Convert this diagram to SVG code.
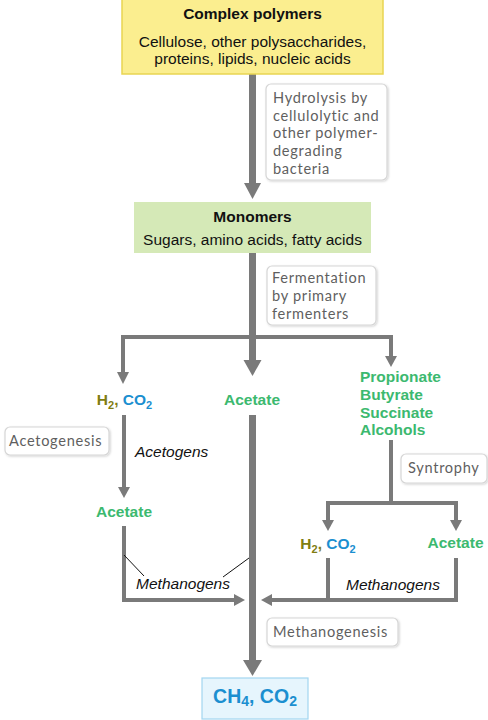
<svg xmlns="http://www.w3.org/2000/svg" width="488" height="720" viewBox="0 0 488 720">
<defs>
<filter id="sh" x="-10%" y="-10%" width="130%" height="140%">
<feDropShadow dx="1" dy="1" stdDeviation="1" flood-color="#000" flood-opacity="0.18"/>
</filter>
</defs>
<style>
.t{font-family:"Liberation Sans",Arial,sans-serif;font-size:15.5px;fill:#111}
.b{font-weight:bold}
.it{font-style:italic}
.g{fill:#3cb96f;font-weight:bold}
.ol{fill:#807d12}
.bl{fill:#1b8fd0}
.lb{fill:#fff;stroke:#d6d6d6;stroke-width:1.2;filter:url(#sh)}
.lt{font-family:Lato,"Open Sans",sans-serif;font-size:14.6px;letter-spacing:0.7px;fill:#5f5f5f}
.thick{stroke:#7a7a7a;stroke-width:7;fill:none}
.thin{stroke:#7a7a7a;stroke-width:4;fill:none}
.hd{fill:#7a7a7a}
.pt{stroke:#111;stroke-width:1;fill:none}
</style>
<rect width="488" height="720" fill="#fff"/>

<g id="connectors">
<line class="thick" x1="252.5" y1="74" x2="252.5" y2="184"/>
<polygon class="hd" points="244,183 261,183 252.5,199"/>
<line class="thick" x1="252.5" y1="253" x2="252.5" y2="361"/>
<polygon class="hd" points="243.5,360 261.5,360 252.5,376"/>
<polyline class="thin" points="123,373 123,337 391,337 391,357"/>
<polygon class="hd" points="117,372 129,372 123,384"/>
<polygon class="hd" points="385,356 397,356 391,367"/>
<line class="thick" x1="252.5" y1="415" x2="252.5" y2="661"/>
<polygon class="hd" points="243,660 262,660 252.5,676"/>
<line class="thin" x1="124" y1="415" x2="124" y2="488"/>
<polygon class="hd" points="118,487 130,487 124,498"/>
<polyline class="thin" points="124,526 124,600 235,600"/>
<polygon class="hd" points="234,594 234,606 245,600"/>
<polyline class="thin" points="391,440 391,503"/>
<polyline class="thin" points="328,521 328,503 456,503 456,521"/>
<polygon class="hd" points="322,520 334,520 328,531"/>
<polygon class="hd" points="450,520 462,520 456,531"/>
<polyline class="thin" points="456,558 456,600 271,600"/>
<line class="thin" x1="328" y1="558" x2="328" y2="600"/>
<polygon class="hd" points="272,594 272,606 261,600"/>
<line class="pt" x1="124" y1="555" x2="144" y2="576"/>
<line class="pt" x1="249" y1="558" x2="223" y2="577"/>
</g>

<g id="complex-polymers">
<rect x="122" y="-1" width="261" height="75" fill="#fbee8f" stroke="#e9d552" stroke-width="1.5"/>
<text class="t b" x="252.5" y="18.5" text-anchor="middle">Complex polymers</text>
<text class="t" x="252.5" y="46.5" text-anchor="middle">Cellulose, other polysaccharides,</text>
<text class="t" x="252.5" y="64" text-anchor="middle">proteins, lipids, nucleic acids</text>
</g>

<g id="hydrolysis">
<rect class="lb" x="266" y="84" width="121" height="96" rx="5"/>
<text class="lt"><tspan x="273" y="103">Hydrolysis by</tspan><tspan x="273" y="120.7">cellulolytic and</tspan><tspan x="273" y="138.4">other polymer-</tspan><tspan x="273" y="156.1">degrading</tspan><tspan x="273" y="173.8">bacteria</tspan></text>
</g>

<g id="monomers">
<rect x="134" y="202" width="237" height="51" fill="#d5e9b7"/>
<text class="t b" x="252.5" y="222" text-anchor="middle">Monomers</text>
<text class="t" x="252.5" y="244.5" text-anchor="middle">Sugars, amino acids, fatty acids</text>
</g>

<g id="fermentation">
<rect class="lb" x="267" y="266" width="109" height="59" rx="5"/>
<text class="lt"><tspan x="272" y="283">Fermentation</tspan><tspan x="272" y="301">by primary</tspan><tspan x="272" y="319">fermenters</tspan></text>
</g>

<g id="h2co2-left">
<text class="t b" x="124.5" y="405" text-anchor="middle"><tspan class="ol">H</tspan><tspan class="ol" font-size="11" dy="4">2</tspan><tspan class="ol" dy="-4">,</tspan><tspan class="bl"> CO</tspan><tspan class="bl" font-size="11" dy="4">2</tspan></text>
</g>

<g id="acetate-mid">
<text class="t g" x="252" y="405" text-anchor="middle">Acetate</text>
</g>

<g id="acids">
<text class="t g"><tspan x="360" y="382">Propionate</tspan><tspan x="360" y="400">Butyrate</tspan><tspan x="360" y="417.5">Succinate</tspan><tspan x="360" y="435">Alcohols</tspan></text>
</g>

<g id="acetogenesis">
<rect class="lb" x="5" y="427" width="104" height="28" rx="5"/>
<text class="lt" x="9" y="446">Acetogenesis</text>
</g>

<g id="acetogens">
<text class="t it" x="135" y="457">Acetogens</text>
</g>

<g id="syntrophy">
<rect class="lb" x="401" y="454" width="86" height="29" rx="5"/>
<text class="lt" x="408" y="473">Syntrophy</text>
</g>

<g id="acetate-left">
<text class="t g" x="124" y="517" text-anchor="middle">Acetate</text>
</g>

<g id="h2co2-right">
<text class="t b" x="328" y="549" text-anchor="middle"><tspan class="ol">H</tspan><tspan class="ol" font-size="11" dy="4">2</tspan><tspan class="ol" dy="-4">,</tspan><tspan class="bl"> CO</tspan><tspan class="bl" font-size="11" dy="4">2</tspan></text>
</g>

<g id="acetate-right">
<text class="t g" x="455.5" y="548" text-anchor="middle">Acetate</text>
</g>

<g id="methanogens-left">
<text class="t it" x="230" y="589" text-anchor="end">Methanogens</text>
</g>

<g id="methanogens-right">
<text class="t it" x="346" y="590">Methanogens</text>
</g>

<g id="methanogenesis">
<rect class="lb" x="267" y="618" width="131" height="28" rx="5"/>
<text class="lt" x="273" y="637">Methanogenesis</text>
</g>

<g id="ch4-co2">
<rect x="202" y="678" width="106" height="41" fill="#e6f5fd" stroke="#a2d6f1" stroke-width="1.2"/>
<text font-family="Liberation Sans, Arial, sans-serif" font-weight="bold" font-size="19.5" fill="#1b8fd0" x="255" y="703" text-anchor="middle">CH<tspan font-size="14" dy="3">4</tspan><tspan dy="-3">, CO</tspan><tspan font-size="14" dy="3">2</tspan></text>
</g>
</svg>
